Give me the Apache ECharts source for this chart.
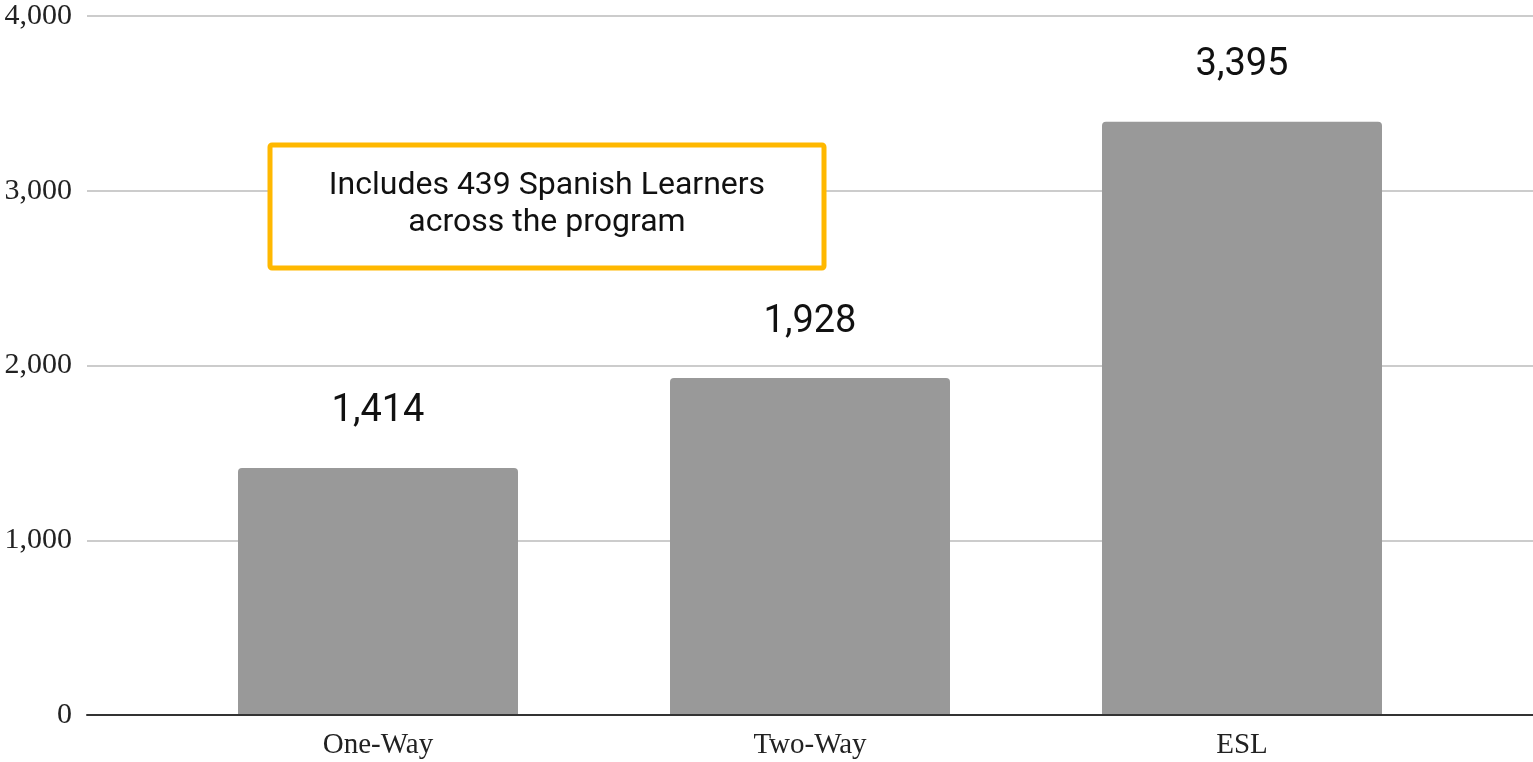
<!DOCTYPE html>
<html>
<head>
<meta charset="utf-8">
<script src="https://cdn.jsdelivr.net/npm/echarts@6/dist/echarts.min.js"></script>
<style>
  html, body { margin: 0; padding: 0; background: #fff; }
  #chart { width: 1533px; height: 762px; }
</style>
</head>
<body>
<div id="chart"></div>
<script>
// program categories and learner counts
const categories = ['One-Way', 'Two-Way', 'ESL']
const learners = [1414, 1928, 3395]
const yTicks = { min: 0, max: 4000, interval: 1000 }
const noteLines = ['Includes 439 Spanish Learners', 'across the program']

const serif = 'Liberation Serif, Times New Roman, serif'
const chart = echarts.init(document.getElementById('chart'))

const option = {
  animation: false,
  // grid 0: full-width gridlines and y labels, grid 1: the bars (inset like the original)
  grid: [
    { left: 87, right: 0, top: 16, bottom: 47 },
    { left: 162, right: 75, top: 16, bottom: 47 }
  ],
  xAxis: [
    {
      gridIndex: 0,
      type: 'category',
      data: [''],
      axisLine: { lineStyle: { color: '#333', width: 2 } },
      axisTick: { show: false },
      axisLabel: { show: false },
      z: 5
    },
    {
      gridIndex: 1,
      type: 'category',
      data: categories,
      axisLine: { show: false },
      axisTick: { show: false },
      axisLabel: {
        fontFamily: serif,
        fontSize: 29,
        color: '#222',
        margin: 16
      }
    }
  ],
  yAxis: [
    {
      gridIndex: 0,
      type: 'value',
      min: yTicks.min,
      max: yTicks.max,
      interval: yTicks.interval,
      axisLine: { show: false },
      axisTick: { show: false },
      splitLine: { lineStyle: { color: '#ccc', width: 2 } },
      axisLabel: {
        fontFamily: serif,
        fontSize: 30,
        color: '#222',
        margin: 15,
        formatter: (v) => v.toLocaleString('en-US')
      }
    },
    {
      gridIndex: 1,
      type: 'value',
      min: yTicks.min,
      max: yTicks.max,
      interval: yTicks.interval,
      show: false
    }
  ],
  series: [
    {
      type: 'bar',
      xAxisIndex: 1,
      yAxisIndex: 1,
      data: learners,
      barWidth: 280,
      itemStyle: { color: '#999999', borderRadius: [4, 4, 0, 0] },
      label: {
        show: true,
        position: 'top',
        distance: 37,
        fontFamily: 'Roboto, sans-serif',
        fontSize: 38,
        color: '#111',
        formatter: (p) => p.value.toLocaleString('en-US')
      }
    }
  ],
  graphic: [
    {
      type: 'rect',
      x: 270,
      y: 145,
      shape: { width: 554, height: 123, r: 2 },
      style: { fill: '#fff', stroke: '#FFB800', lineWidth: 5 },
      z: 10
    },
    {
      type: 'text',
      x: 547,
      y: 204,
      style: {
        text: noteLines.join('\n'),
        fontFamily: 'Roboto, sans-serif',
        fontSize: 32,
        lineHeight: 37,
        fill: '#111',
        align: 'center',
        verticalAlign: 'middle'
      },
      z: 11
    }
  ]
}

chart.setOption(option)
</script>
</body>
</html>
